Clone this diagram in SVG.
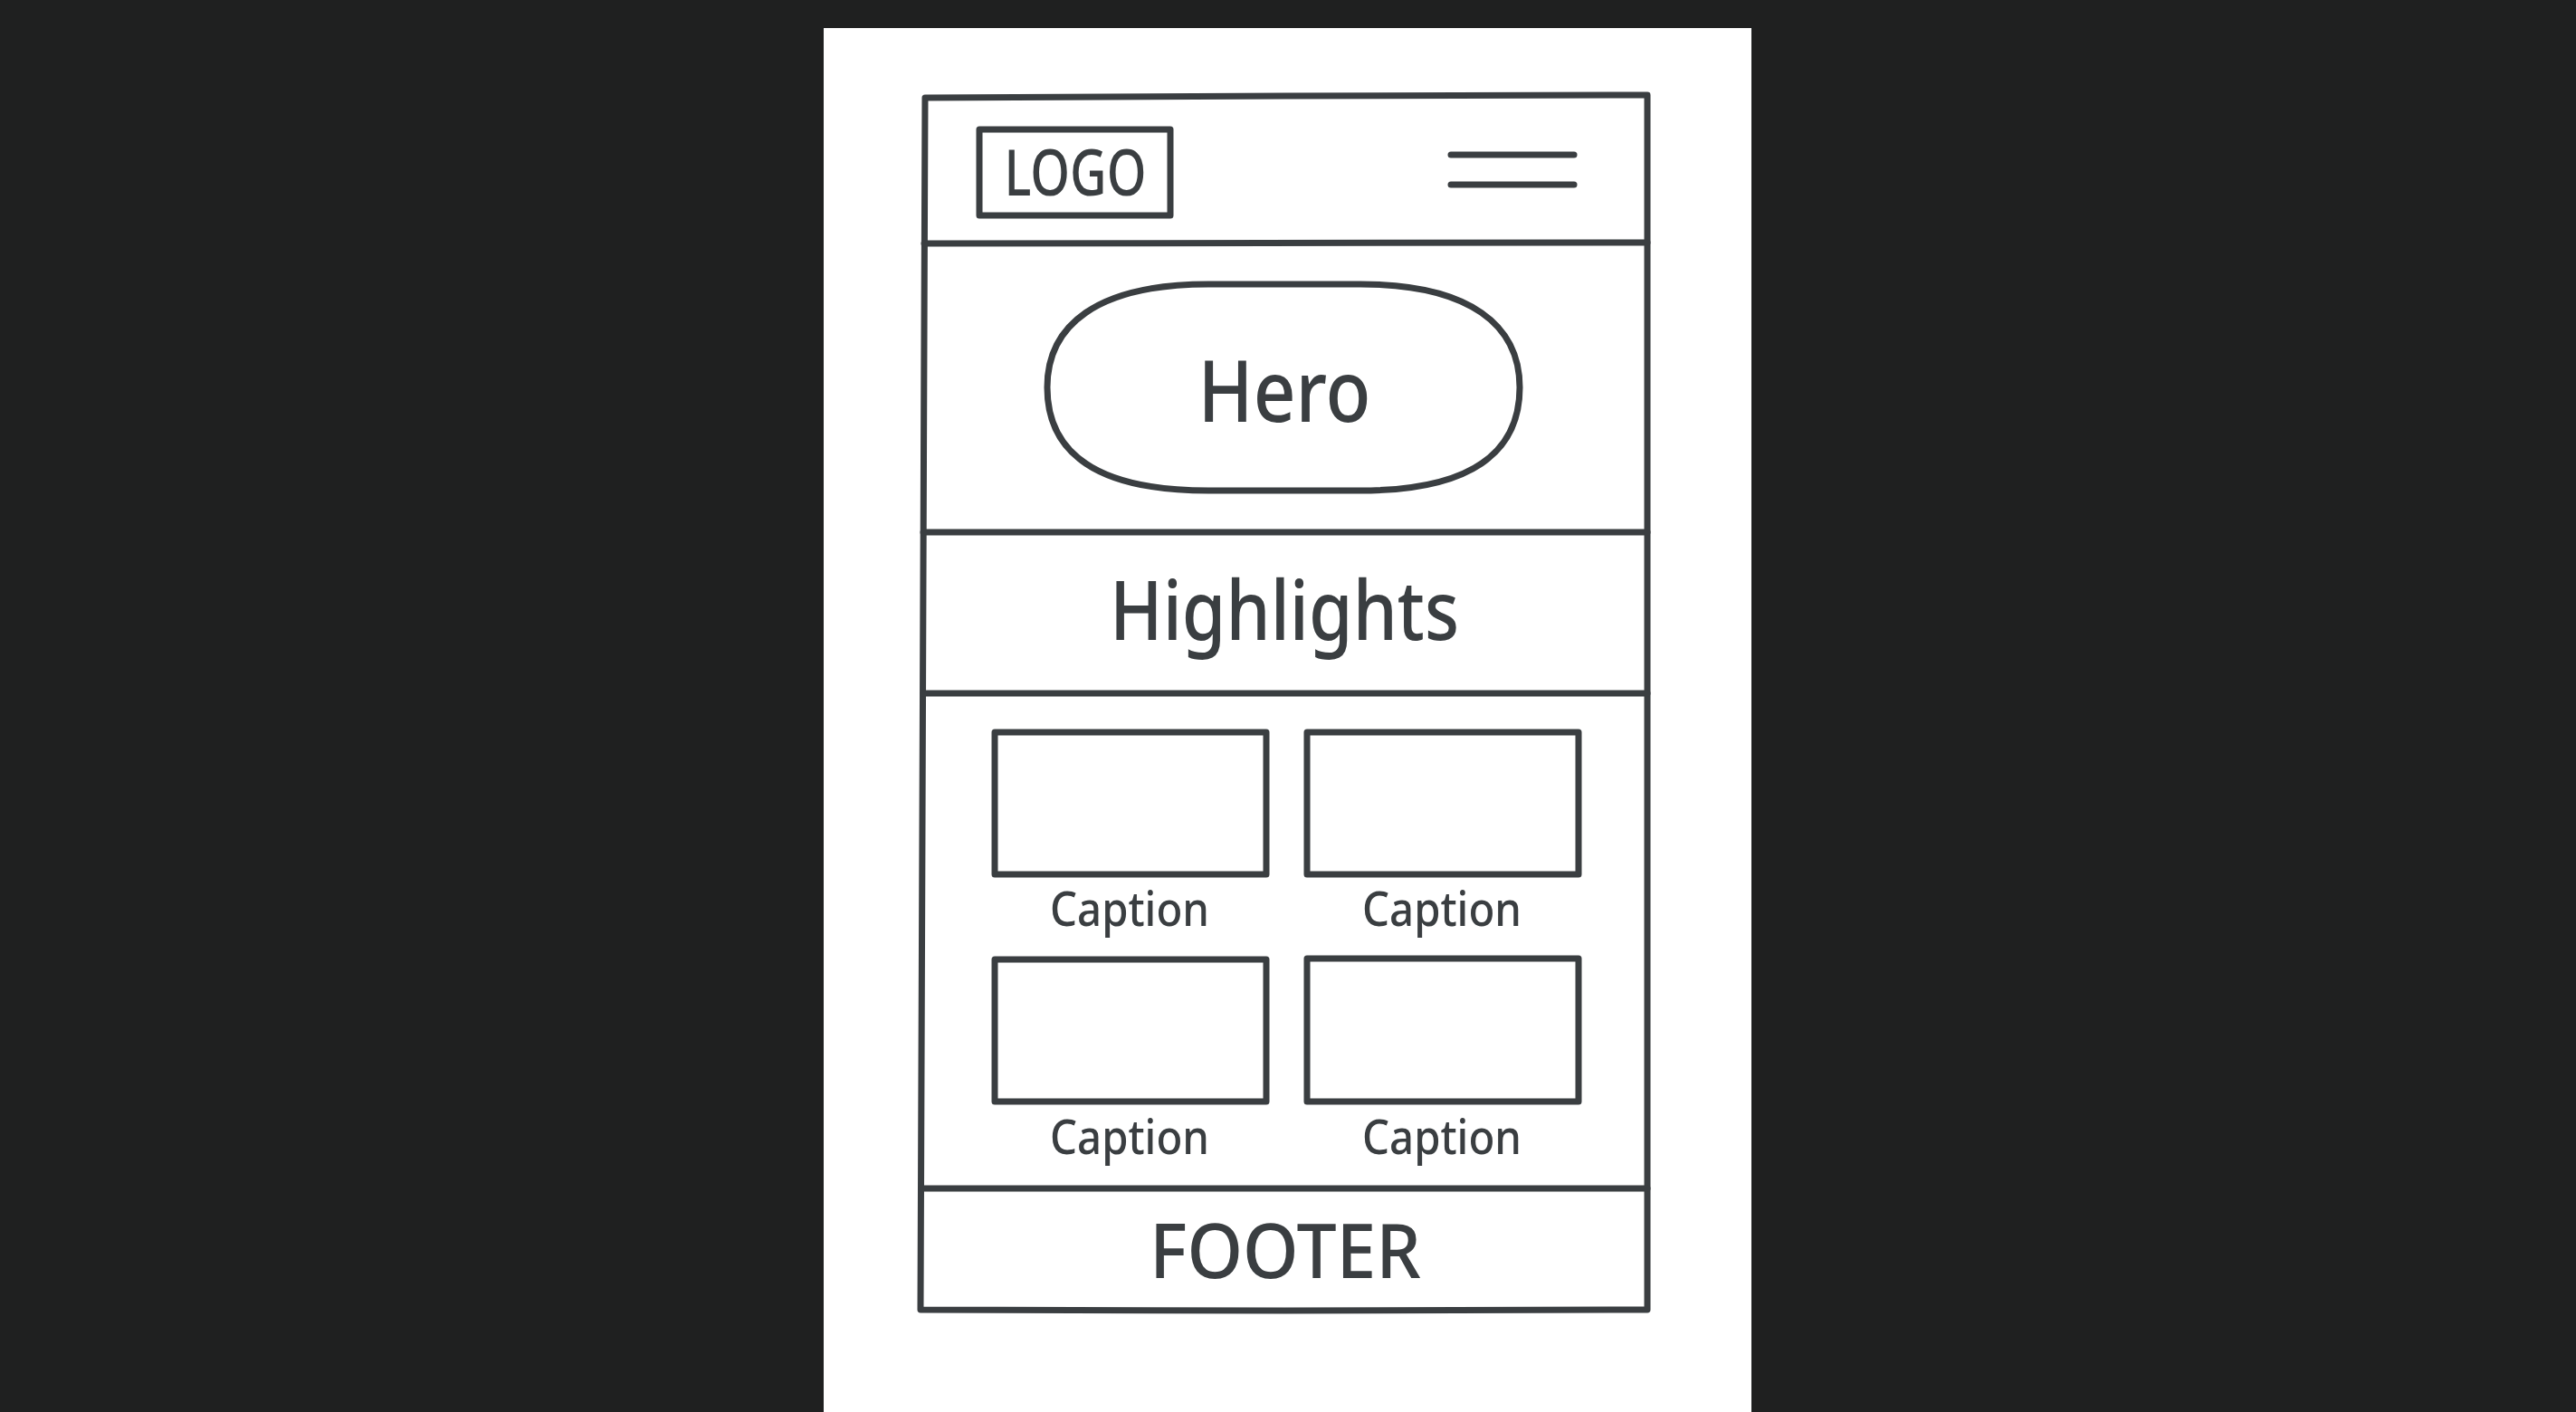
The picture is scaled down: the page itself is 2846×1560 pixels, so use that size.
<svg xmlns="http://www.w3.org/2000/svg" width="2846" height="1560" viewBox="0 0 2846 1560">
<style>
.ln{fill:none;stroke:#3a3e41;stroke-width:7;stroke-linecap:round;stroke-linejoin:round}
.box{fill:#ffffff;stroke:#3a3e41;stroke-width:7;stroke-linejoin:round}
.t{font-family:"Noto Sans","DejaVu Sans",sans-serif;font-weight:500;fill:#3a3e41;text-anchor:middle}
</style>
<rect x="0" y="0" width="2846" height="1560" fill="#1f2020"/>
<rect x="910" y="31" width="1025" height="1529" fill="#ffffff"/>
<g id="frame">
<path class="ln" d="M1022,108 L1420,106 L1820,105 L1820,1447 L1420,1448 L1017,1447 Z"/>
</g>
<g id="header">
<line class="ln" x1="1021" y1="269" x2="1820" y2="268"/>
<g id="logo">
<rect class="box" x="1082" y="143" width="211" height="95"/>
<text class="t" x="1188" y="216" font-size="70" textLength="157" lengthAdjust="spacingAndGlyphs">LOGO</text>
</g>
<g id="menu">
<line class="ln" x1="1603" y1="171" x2="1739" y2="171"/>
<line class="ln" x1="1603" y1="204" x2="1739" y2="204"/>
</g>
</g>
<g id="hero">
<path class="ln" stroke-width="7.5" d="M1335,314 L1503,314 C1625,314 1679,360 1679,428 C1679,500 1625,542 1503,542 L1335,542 C1211,542 1157,500 1157,428 C1157,360 1211,314 1335,314 Z"/>
<text class="t" x="1419" y="466" font-size="95" textLength="191" lengthAdjust="spacingAndGlyphs">Hero</text>
<line class="ln" x1="1020" y1="588" x2="1820" y2="588"/>
</g>
<g id="highlights">
<text class="t" x="1419" y="707" font-size="90" textLength="386" lengthAdjust="spacingAndGlyphs">Highlights</text>
<line class="ln" x1="1020" y1="766" x2="1820" y2="766"/>
</g>
<g id="grid">
<g id="card1">
<rect class="box" x="1099" y="809" width="300" height="157"/>
<text class="t" x="1248" y="1023" font-size="52" textLength="176" lengthAdjust="spacingAndGlyphs">Caption</text>
</g>
<g id="card2">
<rect class="box" x="1444" y="809" width="300" height="157"/>
<text class="t" x="1593" y="1023" font-size="52" textLength="176" lengthAdjust="spacingAndGlyphs">Caption</text>
</g>
<g id="card3">
<rect class="box" x="1099" y="1060" width="300" height="157"/>
<text class="t" x="1248" y="1275" font-size="52" textLength="176" lengthAdjust="spacingAndGlyphs">Caption</text>
</g>
<g id="card4">
<rect class="box" x="1444" y="1059" width="300" height="158"/>
<text class="t" x="1593" y="1275" font-size="52" textLength="176" lengthAdjust="spacingAndGlyphs">Caption</text>
</g>
<line class="ln" x1="1018" y1="1313" x2="1820" y2="1313"/>
</g>
<g id="footer">
<text class="t" x="1420" y="1412" font-size="83" textLength="300" lengthAdjust="spacingAndGlyphs">FOOTER</text>
</g>
<g id="connectors"></g>
</svg>
